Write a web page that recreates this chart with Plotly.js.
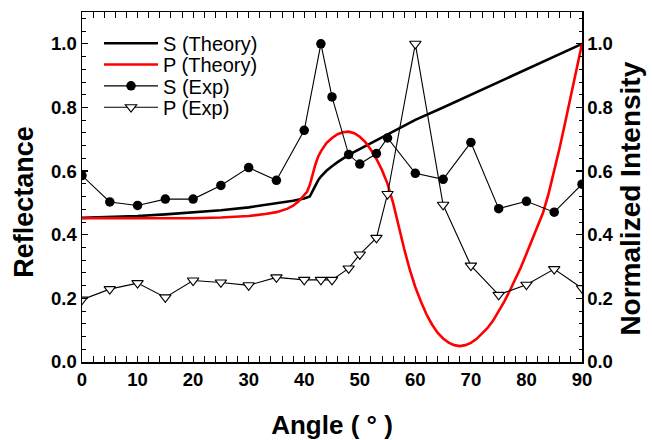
<!DOCTYPE html>
<html>
<head>
<meta charset="utf-8">
<script src="https://cdn.plot.ly/plotly-3.0.1.min.js"></script>
<style>html,body{margin:0;padding:0;background:#fff;}#chart{width:652px;height:440px;}</style>
</head>
<body>
<div id="chart"></div>
<script>
// Theory curves
const sTheoryAngle = [0,5,10,15,20,25,30,35,38,40,41,41.5,42,42.5,43,44,45,46,48,50,53,56,60,65,70,75,80,85,90];
const sTheoryValue = [0.453,0.455,0.459,0.464,0.47,0.477,0.486,0.498,0.507,0.514,0.52,0.537,0.555,0.571,0.583,0.601,0.615,0.628,0.651,0.669,0.696,0.724,0.761,0.8,0.84,0.88,0.921,0.96,1.0];

const pTheoryAngle = [0,10,20,25,30,33,35,37,38,39,40,40.5,41,41.5,42,42.5,43,44,45,46,47,48,49,50,51,52,53,54,55,56,57,58,59,60,61,62,63,64,65,66,67,68,69,70,71,72,73,74,75,76,77,78,79,80,81,82,83,84,85,86,87,88,89,90];
const pTheoryValue = [0.452,0.451,0.452,0.454,0.459,0.465,0.471,0.482,0.491,0.505,0.523,0.535,0.556,0.59,0.62,0.645,0.662,0.688,0.704,0.716,0.722,0.724,0.719,0.708,0.691,0.667,0.638,0.603,0.56,0.5,0.425,0.355,0.29,0.235,0.19,0.15,0.118,0.092,0.074,0.061,0.053,0.05,0.053,0.06,0.072,0.088,0.107,0.13,0.158,0.19,0.224,0.26,0.298,0.34,0.383,0.425,0.47,0.53,0.6,0.675,0.755,0.835,0.918,1.0];

// Experimental data
const expAngle = [0,5,10,15,20,25,30,35,40,43,45,48,50,53,55,60,65,70,75,80,85,90];
const sExp = [0.586,0.503,0.492,0.512,0.512,0.555,0.611,0.571,0.728,1.0,0.833,0.652,0.622,0.655,0.704,0.593,0.574,0.690,0.482,0.505,0.471,0.559];
const pExp = [0.196,0.229,0.248,0.203,0.256,0.250,0.241,0.266,0.258,0.258,0.258,0.294,0.338,0.39,0.528,1.0,0.494,0.303,0.211,0.243,0.292,0.232];

const seriesNames = ['S (Theory)','P (Theory)','S (Exp)','P (Exp)'];
const yTickVals = [0,0.2,0.4,0.6,0.8,1.0];
const xTickVals = [0,10,20,30,40,50,60,70,80,90];

const FONT = 'Arial, "Liberation Sans", sans-serif';
const pad = s => '<span style="color:rgba(0,0,0,0)">' + s + '</span>';

const traces = [
  {x: sTheoryAngle, y: sTheoryValue, name: seriesNames[0], mode: 'lines', legend: 'legend',
   line: {color: '#000000', width: 2.6}},
  {x: pTheoryAngle, y: pTheoryValue, name: seriesNames[1], mode: 'lines', legend: 'legend2',
   line: {color: '#ff0000', width: 2.6}},
  {x: expAngle, y: sExp, name: seriesNames[2], mode: 'lines+markers', legend: 'legend3',
   line: {color: '#000000', width: 1.1},
   marker: {symbol: 'circle', size: 9.5, color: '#000000'}},
  {x: expAngle, y: pExp, name: seriesNames[3], mode: 'lines+markers', legend: 'legend4',
   line: {color: '#000000', width: 1.1},
   marker: {symbol: 'triangle-down', size: 10, color: '#ffffff', line: {color: '#000000', width: 1.1}}},
  {x: expAngle, y: pExp, yaxis: 'y2', mode: 'lines', showlegend: false, hoverinfo: 'skip',
   line: {color: 'rgba(0,0,0,0)', width: 0}}
];

const tickFont = {family: FONT, size: 18.5, color: '#000', weight: 'bold'};
const titleFont = {family: FONT, size: 27, color: '#000', weight: 'bold'};

const yCommon = {
  range: [0, 1.1], tickvals: yTickVals, tickformat: '.1f',
  ticks: 'inside', ticklen: 6, tickwidth: 1.2, tickcolor: '#000',
  minor: {dtick: 0.04, ticks: 'inside', ticklen: 3.5, tickwidth: 1, tickcolor: '#000', tick0: 0},
  showline: true, linecolor: '#000', linewidth: 1.5,
  showgrid: false, zeroline: false, tickfont: tickFont
};

function legendAt(yPaper) {
  return {x: 0.034, y: yPaper, xanchor: 'left', yanchor: 'middle', bgcolor: 'rgba(0,0,0,0)',
          font: {family: FONT, size: 20, color: '#000'}, itemwidth: 54, borderwidth: 0};
}

const layout = {
  width: 652, height: 440,
  margin: {l: 82, r: 70, t: 12, b: 78},
  paper_bgcolor: '#fff', plot_bgcolor: '#fff',
  showlegend: true,
  legend: legendAt(0.9106),
  legend2: legendAt(0.8498),
  legend3: legendAt(0.789),
  legend4: legendAt(0.728),
  xaxis: {
    range: [0, 90], tickvals: xTickVals,
    ticks: 'inside', ticklen: 6, tickwidth: 1.2, tickcolor: '#000',
    minor: {dtick: 2, tick0: 0, ticks: 'inside', ticklen: 3.5, tickwidth: 1, tickcolor: '#000'},
    showline: true, linecolor: '#000', linewidth: 1.5, mirror: 'allticks',
    showgrid: false, zeroline: false, tickfont: tickFont,
    title: {text: 'Angle ( ° )', font: {family: FONT, size: 26, color: '#000', weight: 'bold'}, standoff: 28}
  },
  yaxis: Object.assign({}, yCommon, {
    title: {text: 'Reflectance' + pad('00'), font: titleFont, standoff: 9}
  }),
  yaxis2: Object.assign({}, yCommon, {
    overlaying: 'y', side: 'right',
    title: {text: 'Normalized Intensity' + pad('0.'), font: {family: FONT, size: 28, color: '#000', weight: 'bold'}, standoff: 8}
  })
};

Plotly.newPlot('chart', traces, layout, {displayModeBar: false, staticPlot: true});
</script>
</body>
</html>
